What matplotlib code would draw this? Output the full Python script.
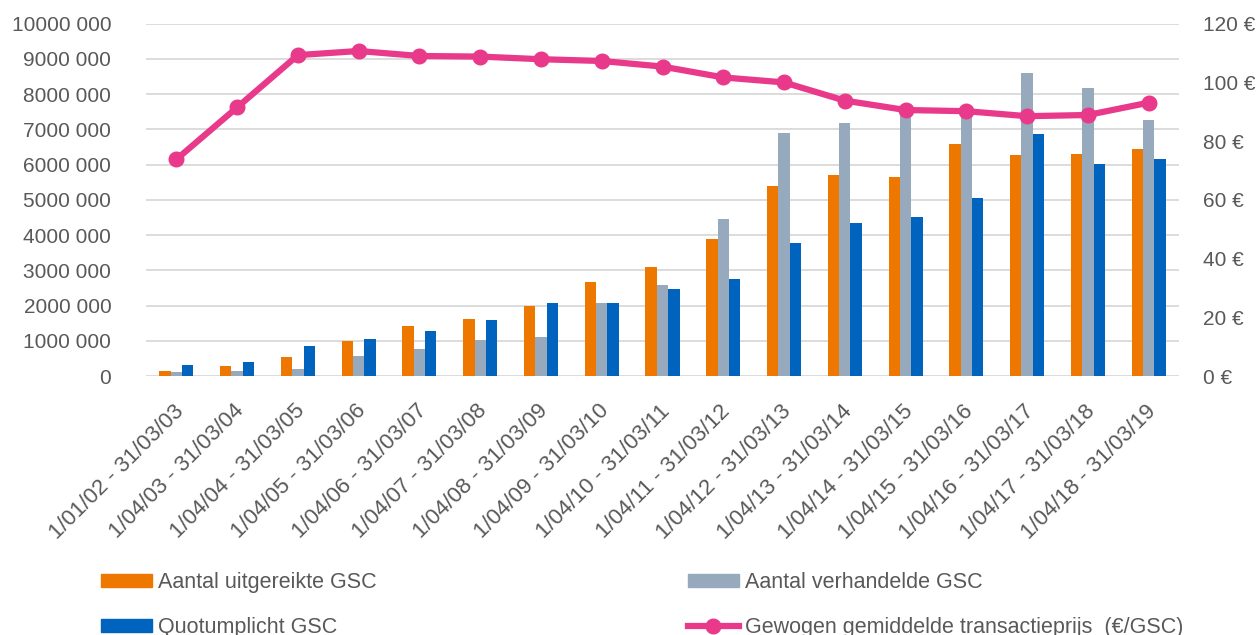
import numpy as np
import matplotlib.pyplot as plt
import matplotlib.patches as mpatches
import matplotlib.lines as mlines
from matplotlib.transforms import ScaledTranslation

plt.rcParams['font.family'] = ['Liberation Sans', 'DejaVu Sans']

# Daten
perioden = ["1/01/02 - 31/03/03", "1/04/03 - 31/03/04", "1/04/04 - 31/03/05",
            "1/04/05 - 31/03/06", "1/04/06 - 31/03/07", "1/04/07 - 31/03/08",
            "1/04/08 - 31/03/09", "1/04/09 - 31/03/10", "1/04/10 - 31/03/11",
            "1/04/11 - 31/03/12", "1/04/12 - 31/03/13", "1/04/13 - 31/03/14",
            "1/04/14 - 31/03/15", "1/04/15 - 31/03/16", "1/04/16 - 31/03/17",
            "1/04/17 - 31/03/18", "1/04/18 - 31/03/19"]
uitgereikt = [130000, 280000, 540000, 990000, 1410000, 1630000, 2000000, 2680000, 3080000,
              3880000, 5380000, 5710000, 5640000, 6580000, 6260000, 6290000, 6430000]
verhandeld = [100000, 140000, 210000, 570000, 760000, 1010000, 1110000, 2070000, 2580000,
              4470000, 6910000, 7170000, 7600000, 7550000, 8590000, 8180000, 7280000]
quotumplicht = [310000, 390000, 860000, 1040000, 1270000, 1600000, 2070000, 2070000, 2460000,
                2760000, 3780000, 4330000, 4510000, 5050000, 6880000, 6030000, 6150000]
prijs = [73.8, 91.5, 109.3, 110.7, 109.0, 108.8, 107.9, 107.3, 105.4,
         101.7, 100.0, 93.8, 90.6, 90.2, 88.5, 88.9, 93.1]

links_ticks = np.arange(0, 10000001, 1000000)
links_labels = ["0", "1000 000", "2000 000", "3000 000", "4000 000", "5000 000",
                "6000 000", "7000 000", "8000 000", "9000 000", "10000 000"]
rechts_ticks = np.arange(0, 121, 20)
rechts_labels = ["0 €", "20 €", "40 €", "60 €", "80 €", "100 €", "120 €"]

namen = ["Aantal uitgereikte GSC", "Aantal verhandelde GSC", "Quotumplicht GSC",
         "Gewogen gemiddelde transactieprijs  (€/GSC)"]

color = ['#EE7700', '#97AABD', '#0064BE', '#E9398A']
textcolor = '#595959'
fs = 15

fig = plt.figure(figsize=(12.59, 6.35), dpi=100)
ax = fig.add_axes([146/1259, 1-376/635, (1179-146)/1259, (376-23.7)/635])

x = np.arange(len(perioden))
w = 0.187
ax.bar(x - w, uitgereikt, w, color=color[0], zorder=2)
ax.bar(x, verhandeld, w, color=color[1], zorder=2)
ax.bar(x + w, quotumplicht, w, color=color[2], zorder=2)

### Layout links:
ax.set_xlim(-0.5, len(perioden) - 0.5)
ax.set_ylim(0, 10000000)
ax.set_yticks(links_ticks)
ax.set_yticklabels(links_labels)
ax.grid(True, axis='y', color='#D9D9D9', linewidth=1.3, zorder=0)
ax.set_axisbelow(True)
for s in ax.spines.values():
    s.set_visible(False)
ax.tick_params(axis='y', length=0, pad=25, labelsize=fs, labelcolor=textcolor)

ax.set_xticks(x)
ax.set_xticklabels(perioden, rotation=45, ha='right', va='center', rotation_mode='anchor')
ax.tick_params(axis='x', length=0, pad=23, labelsize=16, labelcolor=textcolor)
offset = ScaledTranslation(4/100, 0, fig.dpi_scale_trans)
for lab in ax.get_xticklabels():
    lab.set_transform(lab.get_transform() + offset)

### Prijs auf rechter Achse:
ax2 = ax.twinx()
ax2.plot(x, prijs, color=color[3], linewidth=4.5, marker='o', markersize=10.5, zorder=3)
ax2.set_ylim(0, 120)
ax2.set_yticks(rechts_ticks)
ax2.set_yticklabels(rechts_labels)
for s in ax2.spines.values():
    s.set_visible(False)
ax2.tick_params(axis='y', length=0, pad=17, labelsize=fs, labelcolor=textcolor)

### Legende (zwei Spalten):
orange = mpatches.Patch(color=color[0], label=namen[0])
grau = mpatches.Patch(color=color[1], label=namen[1])
blau = mpatches.Patch(color=color[2], label=namen[2])
linie = mlines.Line2D([], [], color=color[3], linewidth=4.5, marker='o', markersize=10.5, label=namen[3])

leg_kw = dict(frameon=False, loc='upper left', fontsize=15.5, labelcolor=textcolor,
              handlelength=2.35, handleheight=0.6, handletextpad=0.3, labelspacing=1.12,
              borderpad=0, borderaxespad=0)
fig.legend(handles=[orange, blau], bbox_to_anchor=(101/1259, 1-572/635), **leg_kw)
fig.legend(handles=[grau, linie], bbox_to_anchor=(688/1259, 1-572/635), **leg_kw)

plt.savefig('out.png', dpi=100)
